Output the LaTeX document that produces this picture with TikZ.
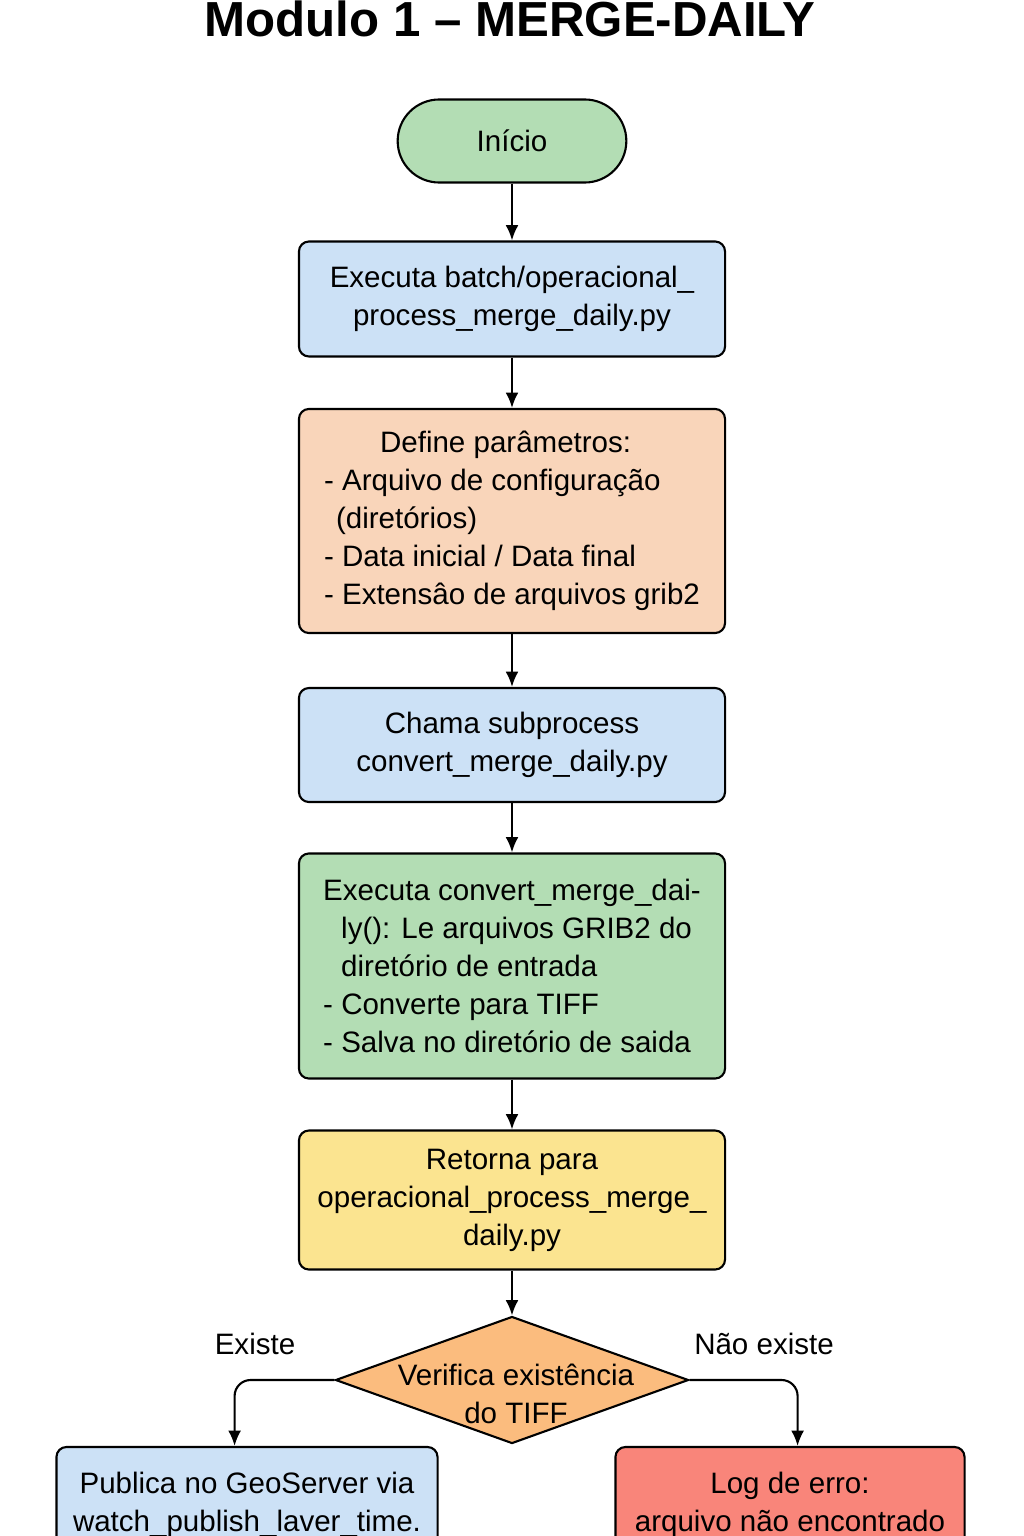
\documentclass[tikz,border=0pt]{standalone}
\usepackage{fontspec}
\setmainfont{Liberation Sans}
\usetikzlibrary{arrows.meta,positioning,shapes.geometric,shapes.misc}
\definecolor{leaf}{HTML}{B3DDB4}
\definecolor{sky}{HTML}{CCE1F6}
\definecolor{peach}{HTML}{F9D5BA}
\definecolor{butter}{HTML}{FBE490}
\definecolor{amber}{HTML}{FBBC7E}
\definecolor{coral}{HTML}{F9857A}

\begin{document}
\begin{tikzpicture}[x=0.025cm,y=-0.025cm,font=\fontsize{21}{27}\selectfont,
  box/.style={draw=black,line width=1.5pt,rounded corners=0.25cm,minimum width=10.65cm,align=center},
  term/.style={draw=black,line width=1.5pt,rounded rectangle,minimum width=5.95cm,minimum height=2.075cm},
  arr/.style={-{Latex[length=0.38cm,width=0.32cm]},line width=1.5pt}]
\useasboundingbox (0,0) rectangle (1024,1536);
\node[anchor=base,font=\fontsize{35}{40}\selectfont\bfseries] (title) at (510,37) {Modulo 1 -- MERGE-DAILY};
\node[term,fill=leaf] (start) at (512,141) {Início};
\node[box,fill=sky,minimum height=2.875cm] (run) at (512,299) {Executa batch/operacional\_\\process\_merge\_daily.py};
\node[box,fill=peach,minimum height=5.6cm,align=left] (params) at (512,521) {\hspace*{1.4cm}Define parâmetros:\\- Arquivo de configuração\\\hspace*{0.3cm}(diretórios)\\- Data inicial / Data final\\- Extensâo de arquivos grib2};
\node[box,fill=sky,minimum height=2.85cm] (call) at (512,745) {Chama subprocess\\convert\_merge\_daily.py};
\node[box,fill=leaf,minimum height=5.625cm,align=left] (conv) at (512,966) {Executa convert\_merge\_dai-\\\hspace*{0.45cm}ly(): Le arquivos GRIB2 do\\\hspace*{0.45cm}diretório de entrada\\- Converte para TIFF\\- Salva no diretório de saida};
\node[box,fill=butter,minimum height=3.475cm] (back) at (512,1200) {Retorna para\\operacional\_process\_merge\_\\daily.py};
\node[draw=black,line width=1.5pt,diamond,fill=amber,minimum width=8.825cm,minimum height=3.175cm,inner sep=0pt,
  label={[align=center,yshift=-0.35cm,xshift=0.1cm]center:{Verifica existência\\do TIFF}}] (check) at (512,1380) {};
% outcome boxes, cut by the page edge
\node[box,fill=sky,minimum width=9.525cm,minimum height=2.9cm] (pub) at (247,1505) {Publica no GeoServer via\\watch\_publish\_laver\_time.};
\node[box,fill=coral,minimum width=8.725cm,minimum height=2.9cm] (err) at (790,1505) {Log de erro:\\arquivo não encontrado};
\node (yes) at (255,1344) {Existe};
\node (no) at (764,1344) {Não existe};
\draw[arr] (start.south) -- (run.north);
\draw[arr] (run.south) -- (params.north);
\draw[arr] (params.south) -- (call.north);
\draw[arr] (call.south) -- (conv.north);
\draw[arr] (conv.south) -- (back.north);
\draw[arr] (back.south) -- (check.north);
\draw[arr,rounded corners=0.4cm] (check.west) -| ([xshift=-0.31cm]pub.north);
\draw[arr,rounded corners=0.4cm] (check.east) -| ([xshift=0.19cm]err.north);
\end{tikzpicture}
\end{document}
